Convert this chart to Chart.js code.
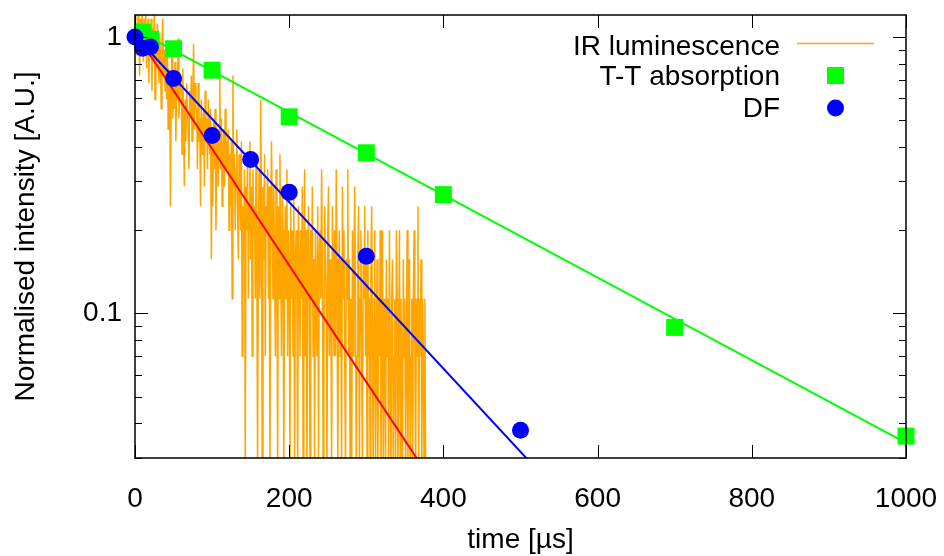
<!DOCTYPE html>
<html>
<head>
<meta charset="utf-8">
<script src="https://cdn.jsdelivr.net/npm/chart.js@4.4.1/dist/chart.umd.min.js"></script>
<style>
  body { margin: 0; background: #fff; }
  #wrap { width: 944px; height: 556px; }
</style>
</head>
<body>
<div id="wrap"><canvas id="myChart"></canvas></div>
<script>
// IR luminescence trace, one sample every 1 us starting at t = 0 (20 per row)
const irStep = 1;
const irValues = [
  1.25, 0.987, 1.118, 0.856, 1.25, 1.031, 0.725, 1.162, 0.944, 1.25, 1.075, 0.813, 1.162, 0.9, 1.25, 0.769, 1.031, 1.162, 0.681, 0.987,
  0.944, 1.162, 0.638, 1.075, 0.813, 1.25, 0.594, 0.9, 0.769, 1.118, 0.987, 0.681, 1.031, 0.856, 0.55, 0.944, 1.162, 0.725, 0.9, 0.638,
  0.856, 0.594, 0.944, 0.463, 0.769, 0.681, 0.244, 0.638, 0.9, 0.507, 0.725, 0.55, 0.813, 0.419, 0.681, 0.594, 0.987, 0.507, 0.638, 0.725,
  0.638, 0.376, 0.769, 0.507, 0.288, 0.594, 0.419, 0.681, 0.55, 0.463, 0.332, 0.638, 0.507, 0.725, 0.419, 0.594, 0.944, 0.463, 0.681, 0.55,
  0.55, 0.332, 0.681, 0.419, 0.507, 0.244, 0.594, 0.376, 0.463, 0.55, 0.288, 0.638, 0.419, 0.507, 0.332, 0.594, 0.463, 0.376, 0.55, 0.157,
  0.419, 0.244, 0.507, 0.332, 0.55, 0.2, 0.376, 0.463, 0.288, 0.419, 0.725, 0.332, 0.507, 0.244, 0.376, 0.463, 0.288, 0.55, 0.332, 0.419,
  0.332, 0.463, 0.2, 0.376, 0.244, 0.419, 0.113, 0.725, 0.288, 0.376, 0.2, 0.332, 0.463, 0.244, 0.157, 0.376, 0.288, 0.2, 0.419, 0.07,
  0.244, 0.157, 0.332, 0.026, 0.288, 0.2, 0.376, 0.113, 0.244, 0.419, 0.157, 0.288, 0.07, 0.332, 0.2, 0.244, 0.113, 0.376, 0.157, 0.026,
  0.2, 0.332, 0.113, 0.594, 0.244, 0.026, 0.288, 0.157, 0.376, 0.07, 0.244, 0.2, 0.332, 0.113, 0.288, 0.026, 0.157, 0.419, 0.244, 0.113,
  0.288, 0.157, 0.07, 0.332, 0.2, 0.026, 0.244, 0.113, 0.376, 0.157, 0.07, 0.288, 0.2, 0.026, 0.157, 0.244, 0.113, 0.332, 0.07, 0.2,
  0.157, 0.026, 0.244, 0.113, 0.2, 0.07, 0.288, 0.026, 0.157, 0.2, 0.113, 0.026, 0.244, 0.157, 0.07, 0.2, 0.113, 0.288, 0.026, 0.157,
  0.332, 0.07, 0.2, 0.026, 0.113, 0.244, 0.157, 0.026, 0.2, 0.113, 0.288, 0.07, 0.157, 0.026, 0.2, 0.113, 0.07, 0.244, 0.026, 0.157,
  0.2, 0.113, 0.332, 0.157, 0.026, 0.07, 0.244, 0.157, 0.113, 0.026, 0.2, 0.288, 0.07, 0.157, 0.113, 0.026, 0.244, 0.157, 0.07, 0.2,
  0.07, 0.332, 0.157, 0.026, 0.113, 0.2, 0.07, 0.157, 0.026, 0.288, 0.113, 0.2, 0.07, 0.026, 0.157, 0.113, 0.332, 0.07, 0.157, 0.026,
  0.113, 0.026, 0.2, 0.07, 0.157, 0.288, 0.113, 0.026, 0.07, 0.157, 0.244, 0.026, 0.113, 0.2, 0.07, 0.026, 0.157, 0.113, 0.244, 0.07,
  0.157, 0.026, 0.2, 0.07, 0.113, 0.026, 0.157, 0.244, 0.07, 0.026, 0.113, 0.2, 0.026, 0.07, 0.157, 0.026, 0.113, 0.07, 0.2, 0.026,
  0.07, 0.2, 0.026, 0.113, 0.07, 0.026, 0.157, 0.07, 0.113, 0.026, 0.2, 0.07, 0.026, 0.113, 0.157, 0.026, 0.07, 0.113, 0.026, 0.2,
  0.113, 0.026, 0.07, 0.2, 0.026, 0.113, 0.07, 0.026, 0.157, 0.07, 0.113, 0.026, 0.07, 0.2, 0.026, 0.113, 0.157, 0.026, 0.07, 0.113,
  0.026, 0.113, 0.2, 0.07, 0.026, 0.113, 0.07, 0.244, 0.026, 0.113, 0.07, 0.157, 0.026, 0.113, 0.07, 0.026, 0.113, 0.026
];

// T-T absorption
const ttTimes  = [10, 20, 50, 100, 200, 300, 400, 700, 1000];
const ttValues = [1.04, 0.98, 0.906, 0.758, 0.514, 0.381, 0.269, 0.089, 0.036];

// delayed fluorescence
const dfTimes  = [0, 10, 20, 50, 100, 150, 200, 300, 500];
const dfValues = [1.0, 0.91, 0.92, 0.707, 0.44, 0.36, 0.274, 0.161, 0.0378];

// exponential fits (straight on the log axis), end points
const fitGreenT = [0, 1000], fitGreenV = [1.063, 0.034];
const fitBlueT  = [0, 600],  fitBlueV  = [1.01, 0.0158];
const fitRedT   = [0, 400],  fitRedV   = [1.04, 0.0214];

const xTicks = [0, 200, 400, 600, 800, 1000];
const yTicks = [0.03, 0.04, 0.05, 0.06, 0.07, 0.08, 0.09, 0.1, 0.2, 0.3, 0.4, 0.5, 0.6, 0.7, 0.8, 0.9, 1];
const yLabels = { 0.1: '0.1', 1: '1' };

const FONT = '"Liberation Sans", Arial, Helvetica, sans-serif';
const pts = (xs, ys) => xs.map((x, i) => ({ x: x, y: ys[i] }));

const irPts = irValues.map((v, i) => ({ x: i * irStep, y: v }));

// gnuplot style frame with inward ticks on all four sides
const frame = {
  id: 'frame',
  afterDatasetsDraw(chart) {
    const { ctx, chartArea: a, scales: { x, y } } = chart;
    ctx.save();
    ctx.strokeStyle = '#000';
    ctx.lineWidth = 1;
    ctx.beginPath();
    xTicks.forEach(v => {
      const px = Math.round(x.getPixelForValue(v)) + 0.5;
      ctx.moveTo(px, a.bottom); ctx.lineTo(px, a.bottom - 13);
      ctx.moveTo(px, a.top); ctx.lineTo(px, a.top + 13);
    });
    yTicks.forEach(v => {
      const py = Math.round(y.getPixelForValue(v)) + 0.5;
      const len = yLabels[v] ? 13 : 7;
      ctx.moveTo(a.left, py); ctx.lineTo(a.left + len, py);
      ctx.moveTo(a.right, py); ctx.lineTo(a.right - len, py);
    });
    ctx.stroke();
    ctx.lineWidth = 1.5;
    ctx.strokeRect(a.left, a.top, a.right - a.left, a.bottom - a.top);
    ctx.restore();
  },
  afterDraw(chart) {
    const ctx = chart.ctx;
    ctx.save();
    ctx.font = '28px ' + FONT;
    ctx.fillStyle = '#000';
    ctx.textAlign = 'right';
    ctx.textBaseline = 'alphabetic';
    ctx.fillText('IR luminescence', 780, 54.5);
    ctx.fillText('T-T absorption', 780, 85);
    ctx.fillText('DF', 780, 117);
    ctx.strokeStyle = '#FFA500';
    ctx.lineWidth = 1.5;
    ctx.beginPath(); ctx.moveTo(797, 43.5); ctx.lineTo(874, 43.5); ctx.stroke();
    ctx.fillStyle = '#00FF00';
    ctx.fillRect(827, 67, 17, 17);
    ctx.fillStyle = '#0000FF';
    ctx.beginPath(); ctx.arc(835.5, 108, 8.5, 0, Math.PI * 2); ctx.fill();
    ctx.restore();
  }
};

const config = {
  type: 'scatter',
  data: {
    datasets: [
      { label: 'DF', data: pts(dfTimes, dfValues), order: 0, clip: false,
        pointStyle: 'circle', pointRadius: 8.5, borderWidth: 0,
        backgroundColor: '#0000FF', borderColor: '#0000FF' },
      { label: 'T-T absorption', data: pts(ttTimes, ttValues), order: 1, clip: false,
        pointStyle: 'rect', pointRadius: 12, borderWidth: 0,
        backgroundColor: '#00FF00', borderColor: '#00FF00' },
      { label: 'DF fit', data: pts(fitBlueT, fitBlueV), order: 2, showLine: true, clip: 0,
        pointRadius: 0, borderWidth: 2, borderColor: '#0000FF' },
      { label: 'T-T fit', data: pts(fitGreenT, fitGreenV), order: 3, showLine: true, clip: 0,
        pointRadius: 0, borderWidth: 2, borderColor: '#00FF00' },
      { label: 'IR fit', data: pts(fitRedT, fitRedV), order: 4, showLine: true, clip: 0,
        pointRadius: 0, borderWidth: 2, borderColor: '#FF0000' },
      { label: 'IR luminescence', data: irPts, order: 5, showLine: true, clip: 0,
        pointRadius: 0, borderWidth: 1.5, borderColor: '#FFA500', tension: 0 }
    ]
  },
  options: {
    responsive: true,
    maintainAspectRatio: false,
    animation: false,
    events: [],
    layout: { padding: { left: 0, right: 38, top: 15, bottom: 0 } },
    plugins: { legend: { display: false }, tooltip: { enabled: false } },
    scales: {
      x: {
        type: 'linear', min: 0, max: 1000,
        grid: { display: false, drawTicks: false },
        border: { display: false },
        afterBuildTicks: s => { s.ticks = xTicks.map(v => ({ value: v })); },
        afterFit: s => { s.height = 98; s.paddingLeft = 0; s.paddingRight = 0; },
        ticks: { color: '#000', font: { family: FONT, size: 28 }, padding: 24, maxRotation: 0, autoSkip: false,
          callback: v => String(v) },
        title: { display: true, text: 'time [µs]', color: '#000', font: { family: FONT, size: 28, lineHeight: 1.1 }, padding: { top: 0, bottom: 0 } }
      },
      y: {
        type: 'logarithmic', min: 0.03, max: 1.2,
        grid: { display: false, drawTicks: false },
        border: { display: false },
        afterBuildTicks: s => { s.ticks = yTicks.map(v => ({ value: v })); },
        afterFit: s => { s.width = 135; s.paddingTop = 0; s.paddingBottom = 0; },
        ticks: { color: '#000', font: { family: FONT, size: 28 }, padding: 13, autoSkip: false,
          callback: v => yLabels[v] || '' },
        title: { display: true, text: 'Normalised intensity [A.U.]', color: '#000', font: { family: FONT, size: 28 }, padding: { top: 9, bottom: 0 } }
      }
    }
  },
  plugins: [frame]
};

const myChart = new Chart(document.getElementById('myChart'), config);
</script>
</body>
</html>
